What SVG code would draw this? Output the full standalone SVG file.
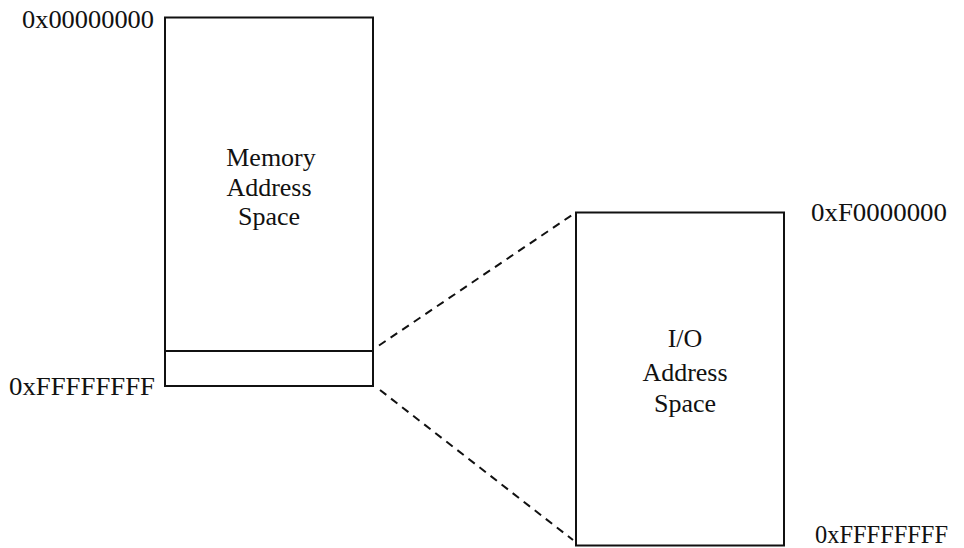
<svg xmlns="http://www.w3.org/2000/svg" width="964" height="548" viewBox="0 0 964 548">
<style>
.box{fill:none;stroke:#111;stroke-width:2}
.dash{fill:none;stroke:#111;stroke-width:2;stroke-dasharray:8,6}
text{font-family:"Liberation Serif","Times New Roman",serif;font-size:26px;fill:#111}
.c{text-anchor:middle}
</style>
<rect width="964" height="548" fill="#fff"/>
<g id="memory-space">
<rect class="box" x="165" y="17.5" width="208" height="368.5"/>
<line class="box" x1="165" y1="351" x2="373" y2="351"/>
<text class="c" x="271" y="166">Memory</text>
<text class="c" x="269" y="196">Address</text>
<text class="c" x="269" y="225">Space</text>
</g>
<g id="io-space">
<rect class="box" x="576" y="212.5" width="208" height="333"/>
<text class="c" x="685" y="347">I/O</text>
<text class="c" x="685" y="381">Address</text>
<text class="c" x="685" y="412">Space</text>
</g>
<g id="labels">
<text x="22" y="28" textLength="132" lengthAdjust="spacingAndGlyphs">0x00000000</text>
<text x="9" y="395" textLength="146" lengthAdjust="spacingAndGlyphs">0xFFFFFFFF</text>
<text x="811" y="221" textLength="136" lengthAdjust="spacingAndGlyphs">0xF0000000</text>
<text x="815" y="543" textLength="133" lengthAdjust="spacingAndGlyphs">0xFFFFFFFF</text>
</g>
<g id="connectors">
<line class="dash" x1="379" y1="345.5" x2="572" y2="215"/>
<line class="dash" x1="380" y1="390" x2="573" y2="540"/>
</g>
</svg>
